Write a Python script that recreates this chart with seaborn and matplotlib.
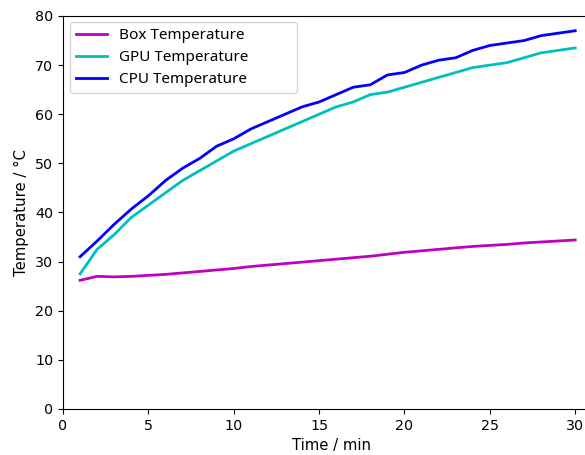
import numpy as np
import pandas as pd
import matplotlib
matplotlib.use("Agg")
import matplotlib.pyplot as plt
import seaborn as sns

# time in minutes
time = list(range(1, 31))

box_temp = [26.2, 27.0, 26.9, 27.0, 27.2, 27.4, 27.7, 28.0, 28.3, 28.6,
            29.0, 29.3, 29.6, 29.9, 30.2, 30.5, 30.8, 31.1, 31.5, 31.9,
            32.2, 32.5, 32.8, 33.1, 33.3, 33.5, 33.8, 34.0, 34.2, 34.4]
gpu_temp = [27.5, 32.5, 35.5, 39.0, 41.5, 44.0, 46.5, 48.5, 50.5, 52.5,
            54.0, 55.5, 57.0, 58.5, 60.0, 61.5, 62.5, 64.0, 64.5, 65.5,
            66.5, 67.5, 68.5, 69.5, 70.0, 70.5, 71.5, 72.5, 73.0, 73.5]
cpu_temp = [31.0, 34.2, 37.6, 40.7, 43.4, 46.5, 49.0, 51.0, 53.5, 55.0,
            57.0, 58.5, 60.0, 61.5, 62.5, 64.0, 65.5, 66.0, 68.0, 68.5,
            70.0, 71.0, 71.5, 73.0, 74.0, 74.5, 75.0, 76.0, 76.5, 77.0]

names = ['Box Temperature', 'GPU Temperature', 'CPU Temperature']
colors = ['m', 'c', 'b']

df = pd.DataFrame({'time': time * 3,
                   'temp': box_temp + gpu_temp + cpu_temp,
                   'sensor': [names[0]] * 30 + [names[1]] * 30 + [names[2]] * 30})

fig = plt.figure(figsize=(5.85, 4.55), dpi=100)
ax = fig.add_axes([63 / 585, 46 / 455, 537 / 585, 393 / 455])

sns.lineplot(data=df, x='time', y='temp', hue='sensor', hue_order=names,
             palette=dict(zip(names, colors)), linewidth=2, ax=ax)

ax.set_xlim(0, 31.45)
ax.set_ylim(0, 80)
ax.set_xticks([0, 5, 10, 15, 20, 25, 30])
ax.tick_params(labelsize=10.3)
ax.set_xlabel('Time / min', fontsize=10.7)
ax.set_ylabel('Temperature / °C', fontsize=10.7)

# legend box is wider than its text in the original
x0 = (70 - 63) / 537
w = (297 - 70) / 537
top = 1 - (22 - 16) / 393
leg = ax.legend(loc='upper left', bbox_to_anchor=(x0, top - 0.03, w, 0.03),
                mode='expand', borderaxespad=0,
                prop={'family': 'Noto Sans', 'size': 11}, labelspacing=0.45)
leg.set_title(None)

fig.savefig('out.png', dpi=100)
